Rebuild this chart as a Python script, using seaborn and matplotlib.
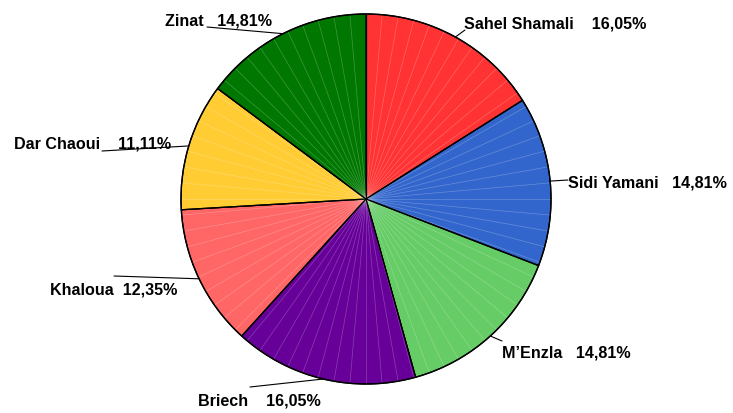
import numpy as np
import matplotlib
matplotlib.use("Agg")
import matplotlib.pyplot as plt
import seaborn as sns

# counts per site (out of 81)
sites = ["Sahel Shamali", "Sidi Yamani", "M\u2019Enzla", "Briech", "Khaloua", "Dar Chaoui", "Zinat"]
counts = [13, 12, 12, 13, 10, 9, 12]
colors = ["#FF3333", "#3366CC", "#66CC66", "#660099", "#FF6666", "#FFCC33", "#007700"]
gaps = [4, 3, 3, 4, 2, 4, 3]  # spaces between name and percent

W, H = 733, 414
cx, cy, R = 366, H - 200, 185

# label anchor (left edge of text, pixel y) and leader end, pixel coords
text_pos = [(464, 24), (568, 183), (502, 353), (198, 401), (50, 290), (14, 144), (165, 21)]
leader_end = [(465, 31), (568, 181), (502, 342), (250, 388), (114, 277), (102, 152), (207, 28)]

sns.set_theme(style="white")
plt.rcParams['font.family'] = ['Liberation Sans', 'DejaVu Sans']

fig = plt.figure(figsize=(W / 100, H / 100), dpi=100)
ax = fig.add_axes([0, 0, 1, 1])

wedges, _ = ax.pie(counts, colors=colors, startangle=90, counterclock=False,
                   center=(cx, cy), radius=R,
                   wedgeprops=dict(edgecolor="black", linewidth=0.9))

# faint radial shading lines
for a in np.arange(0, 360, 5):
    t = np.deg2rad(90 - a)
    ax.plot([cx, cx + R * np.cos(t)], [cy, cy + R * np.sin(t)],
            color="white", lw=0.5, alpha=0.25, zorder=3)

# outline again on top of the shading lines
for w in wedges:
    th = np.deg2rad(w.theta1)
    ax.plot([cx, cx + R * np.cos(th)], [cy, cy + R * np.sin(th)], color="black", lw=0.9, zorder=4)
circ = plt.Circle((cx, cy), R, fill=False, ec="black", lw=1.0, zorder=4)
ax.add_patch(circ)

total = sum(counts)
for w, name, c, g, tp, le in zip(wedges, sites, counts, gaps, text_pos, leader_end):
    mid = np.deg2rad((w.theta1 + w.theta2) / 2)
    sx, sy = cx + R * np.cos(mid), cy + R * np.sin(mid)
    ax.plot([sx, le[0]], [sy, H - le[1]], color="black", lw=0.8, zorder=5)
    pct = f"{c / total * 100:.2f}".replace(".", ",") + "%"
    ax.text(tp[0], H - tp[1], name + " " * g + pct, ha="left", va="center",
            fontsize=11.6, fontweight="bold", color="black", zorder=6)

ax.set_xlim(0, W)
ax.set_ylim(0, H)
ax.set_aspect("auto")
ax.axis("off")

fig.savefig("out.png", dpi=100, facecolor="white")
